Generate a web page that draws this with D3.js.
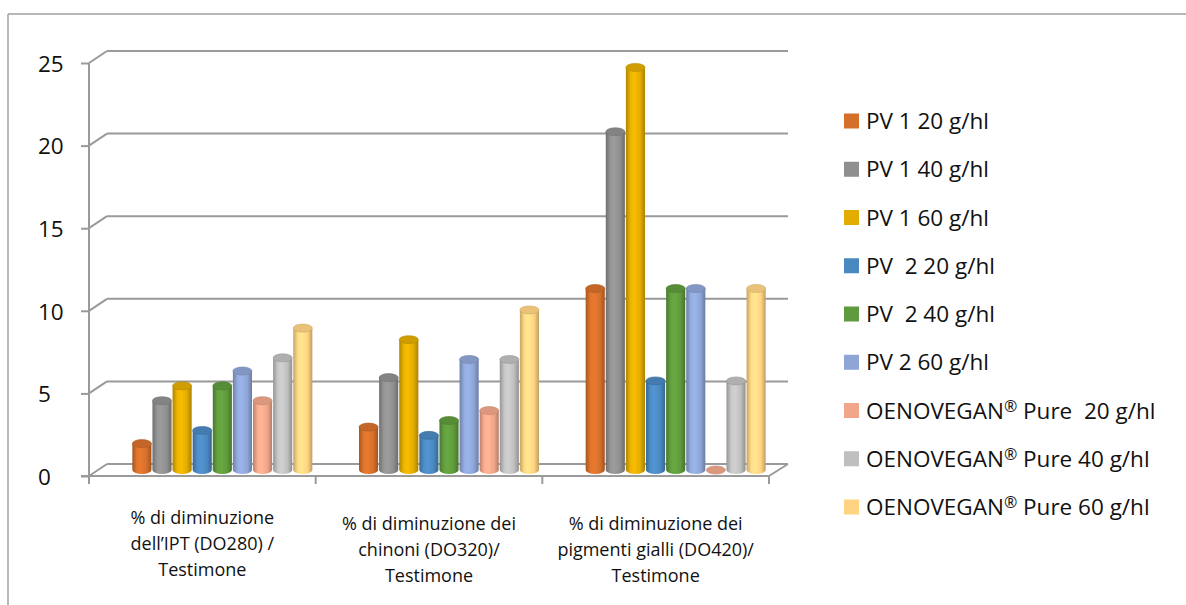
<!DOCTYPE html>
<html>
<head>
<meta charset="utf-8">
<script src="https://cdn.jsdelivr.net/npm/d3@7"></script>
<style>
  html, body { margin: 0; padding: 0; background: #ffffff; }
  svg { display: block; }
  text { font-family: "Open Sans", "Noto Sans", sans-serif; fill: #111111; white-space: pre; }
</style>
</head>
<body>
<svg id="chart" width="1186" height="605"></svg>
<script>
// ---------------- data ----------------
const categories = [
  ["% di diminuzione", "dell\u2019IPT (DO280) /", "Testimone"],
  ["% di diminuzione dei", "chinoni (DO320)/", "Testimone"],
  ["% di diminuzione dei", "pigmenti gialli (DO420)/", "Testimone"]
];
const seriesNames = [
  "PV 1 20 g/hl",
  "PV 1 40 g/hl",
  "PV 1 60 g/hl",
  "PV  2 20 g/hl",
  "PV  2 40 g/hl",
  "PV 2 60 g/hl",
  "OENOVEGAN\u00AE Pure  20 g/hl",
  "OENOVEGAN\u00AE Pure 40 g/hl",
  "OENOVEGAN\u00AE Pure 60 g/hl"
];
const pv1_20  = [1.6, 2.6, 11.0];
const pv1_40  = [4.2, 5.6, 20.5];
const pv1_60  = [5.1, 7.9, 24.4];
const pv2_20  = [2.4, 2.1, 5.4];
const pv2_40  = [5.1, 3.0, 11.0];
const pv2_60  = [6.0, 6.7, 11.0];
const oeno_20 = [4.2, 3.6, 0];
const oeno_40 = [6.8, 6.7, 5.4];
const oeno_60 = [8.6, 9.7, 11.0];
const seriesValues = [pv1_20, pv1_40, pv1_60, pv2_20, pv2_40, pv2_60, oeno_20, oeno_40, oeno_60];
const seriesColors = ["#D5702B", "#8F8F8F", "#E3AC00", "#4A88C0", "#5F9A3C", "#8EA5D6", "#F1A68A", "#BFBFBF", "#FFD382"];
const yTicks = [0, 5, 10, 15, 20, 25];

// ---------------- layout ----------------
const svg = d3.select("#chart");
const depthDX = 18, depthDY = -12;           // oblique depth of the floor/walls
const frontLeft = 89, frontRight = 769;
const frontBottom = 476, frontTop = 63;

const yFront = d3.scaleLinear().domain([0, 25]).range([frontBottom, frontTop]);
const yBack  = d3.scaleLinear().domain([0, 25]).range([frontBottom + depthDY, frontTop + depthDY]);
const yBar   = d3.scaleLinear().domain([0, 25]).range([frontBottom + depthDY / 2, frontBottom + depthDY / 2 - 25 * 16.5]);

const catIdx = categories.map((c, i) => i);
const x0 = d3.scaleBand().domain(catIdx).range([frontLeft, frontRight]);
const groupW = 180;
const x1 = d3.scaleBand().domain(d3.range(seriesNames.length)).range([0, groupW]).paddingInner(0.05);

// outer border (top and left visible)
svg.append("line").attr("x1", 8).attr("y1", 14).attr("x2", 1186).attr("y2", 14)
  .attr("stroke", "#a0a0a0").attr("stroke-width", 1.5);
svg.append("line").attr("x1", 8).attr("y1", 14).attr("x2", 8).attr("y2", 605)
  .attr("stroke", "#a0a0a0").attr("stroke-width", 1.5);

const gridColor = "#9a9a9a";
const grid = svg.append("g");
// back wall gridlines + left wall diagonals
yTicks.forEach(t => {
  grid.append("line")
    .attr("x1", frontLeft + depthDX).attr("x2", 788)
    .attr("y1", yBack(t)).attr("y2", yBack(t))
    .attr("stroke", gridColor).attr("stroke-width", 2);
  grid.append("line")
    .attr("x1", frontLeft).attr("y1", yFront(t))
    .attr("x2", frontLeft + depthDX).attr("y2", yBack(t))
    .attr("stroke", gridColor).attr("stroke-width", 2);
});
// floor: right diagonal and front edge
grid.append("line")
  .attr("x1", 788).attr("y1", yBack(0)).attr("x2", frontRight).attr("y2", yFront(0))
  .attr("stroke", gridColor).attr("stroke-width", 2);
grid.append("line")
  .attr("x1", frontLeft - 8).attr("y1", yFront(0)).attr("x2", frontRight).attr("y2", yFront(0))
  .attr("stroke", gridColor).attr("stroke-width", 2);

// value axis
const yAxis = d3.axisLeft(yFront).tickValues(yTicks).tickSize(8).tickFormat(d3.format("d"));
const yAxisG = svg.append("g").attr("transform", `translate(${frontLeft},0)`).call(yAxis);
yAxisG.select(".domain").attr("stroke", gridColor).attr("stroke-width", 2)
  .attr("d", `M0,${frontTop}V${frontBottom + 8}`);
yAxisG.selectAll(".tick line").attr("stroke", gridColor).attr("stroke-width", 2);
yAxisG.selectAll(".tick text")
  .attr("x", -51).attr("dy", "0.37em")
  .attr("text-anchor", "start")
  .style("font-size", "22.5px").style("font-family", "'Open Sans', sans-serif")
  .attr("fill", "#111111");

// category ticks on the front floor edge
const catTicks = catIdx.map(i => x0(i)).concat([frontRight]);
svg.append("g").selectAll("line").data(catTicks).join("line")
  .attr("x1", d => d).attr("x2", d => d)
  .attr("y1", yFront(0)).attr("y2", yFront(0) + 8)
  .attr("stroke", gridColor).attr("stroke-width", 2);

// category labels
const catG = svg.append("g");
categories.forEach((lines, i) => {
  const cx = x0(i) + x0.bandwidth() / 2;
  const t = catG.append("text").attr("text-anchor", "middle").style("font-size", "18px");
  lines.forEach((ln, k) => {
    t.append("tspan").attr("x", cx).attr("y", 530 + (i === 0 ? -6 : 0) + k * 26).text(ln);
  });
});

// gradients for cylinders
const defs = svg.append("defs");
seriesColors.forEach((c, s) => {
  const base = d3.color(c);
  const g = defs.append("linearGradient").attr("id", "grad" + s)
    .attr("x1", "0%").attr("x2", "100%").attr("y1", "0%").attr("y2", "0%");
  g.append("stop").attr("offset", "0%").attr("stop-color", base.darker(0.7));
  g.append("stop").attr("offset", "25%").attr("stop-color", base.brighter(0.15));
  g.append("stop").attr("offset", "45%").attr("stop-color", base.brighter(0.25));
  g.append("stop").attr("offset", "75%").attr("stop-color", base);
  g.append("stop").attr("offset", "100%").attr("stop-color", base.darker(0.8));
});

// bars (cylinders)
const ry = 4;
const barsG = svg.append("g");
const barData = [];
categories.forEach((c, i) => {
  seriesValues.forEach((vals, s) => barData.push({ cat: i, s: s, v: vals[i] }));
});
barData.forEach(d => {
  const left = x0(d.cat) + x0.bandwidth() / 2 + 20 - groupW / 2 + x1(d.s);
  const w = x1.bandwidth();
  const cx = left + w / 2;
  const yb = yBar(0), yt = yBar(d.v);
  const g = barsG.append("g");
  const col = d3.color(seriesColors[d.s]);
  if (d.v > 0) {
    g.append("path")
      .attr("d", `M${left},${yt} L${left},${yb} A${w / 2},${ry} 0 0 0 ${left + w},${yb} L${left + w},${yt} Z`)
      .attr("fill", `url(#grad${d.s})`);
  }
  g.append("ellipse").attr("cx", cx).attr("cy", yt).attr("rx", w / 2).attr("ry", ry)
    .attr("fill", col.darker(0.25)).attr("stroke", col.darker(0.6)).attr("stroke-width", 0.6);
});

// legend
const legend = svg.append("g");
seriesNames.forEach((name, i) => {
  const cy = 121 + i * 48.25;
  legend.append("rect").attr("x", 844).attr("y", cy - 7.5).attr("width", 15).attr("height", 15)
    .attr("fill", seriesColors[i]);
  const t = legend.append("text").attr("x", 866).attr("y", cy + 8)
    .style("font-size", "22.5px");
  const parts = name.split("\u00AE");
  t.append("tspan").text(parts[0]);
  if (parts.length > 1) {
    t.append("tspan").attr("dy", -7).style("font-size", "16px").text("\u00AE");
    t.append("tspan").attr("dy", 7).text(parts[1]);
  }
});
</script>
</body>
</html>
